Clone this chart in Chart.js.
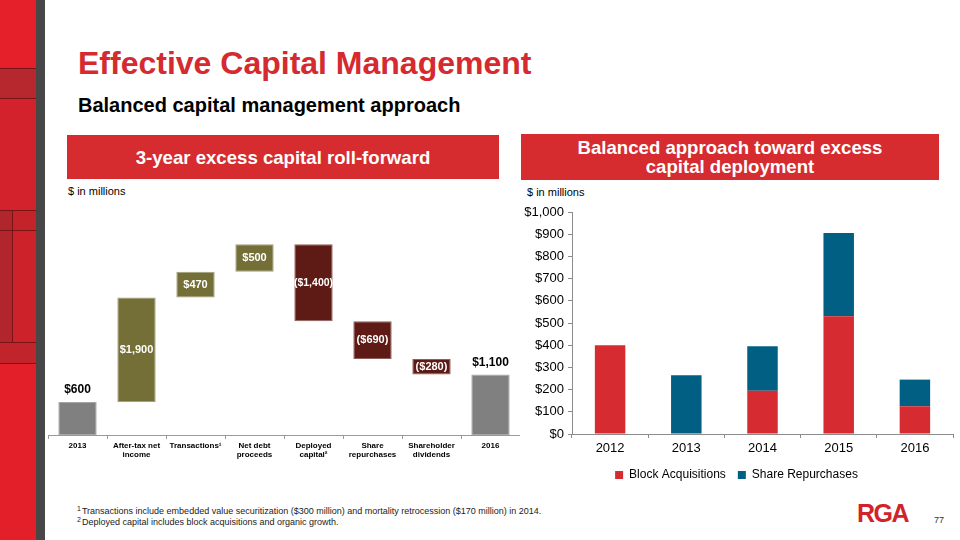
<!DOCTYPE html>
<html>
<head>
<meta charset="utf-8">
<script src="https://cdn.jsdelivr.net/npm/chart.js@4.4.1/dist/chart.umd.min.js"></script>
<style>
  body { margin: 0; width: 960px; height: 540px; position: relative; overflow: hidden; background: #fff;
         font-family: "Liberation Sans", Arial, sans-serif; }
  .abs { position: absolute; }
  .band { position: absolute; left: 0; width: 36px; }
  .rule { position: absolute; left: 0; width: 36px; height: 1px; background: #7a1318; }
  #title { left: 78px; top: 45px; font-size: 32px; font-weight: bold; color: #d42a30; white-space: nowrap; }
  #sub { left: 78px; top: 94px; font-size: 20px; font-weight: bold; color: #000; white-space: nowrap; }
  .banner { position: absolute; background: #d62b2f; color: #fff; font-weight: bold; font-size: 18.6px;
            text-align: center; display: flex; align-items: center; justify-content: center; line-height: 19px; }
  .unit { position: absolute; font-size: 11px; color: #000; }
  .note { position: absolute; left: 77px; font-size: 9px; color: #222; white-space: nowrap; }
  .note sup { font-size: 7px; vertical-align: 3px; margin-right: 1px; }
  #logo { left: 857px; top: 499px; font-size: 25px; font-weight: 900; color: #d2232a; letter-spacing: -1.5px; }
  #page { left: 934px; top: 515px; font-size: 9px; color: #333; }
</style>
</head>
<body>
<!-- side decoration -->
<div class="band" style="top:0;height:68px;background:#e6202a"></div>
<div class="band" style="top:68px;height:30px;background:#b6282e"></div>
<div class="band" style="top:98px;height:112px;background:#d3222b"></div>
<div class="band" style="top:210px;height:20px;background:#c42329"></div>
<div class="band" style="top:230px;height:112px;background:#cd222a"></div>
<div class="abs" style="left:0;top:210px;width:12px;height:132px;background:#b0262c"></div>
<div class="band" style="top:342px;height:21px;background:#c1242b"></div>
<div class="band" style="top:363px;height:177px;background:#e31f29"></div>
<div class="rule" style="top:68px"></div>
<div class="rule" style="top:98px"></div>
<div class="rule" style="top:210px"></div>
<div class="rule" style="top:230px"></div>
<div class="rule" style="top:342px"></div>
<div class="rule" style="top:363px"></div>
<div class="abs" style="left:12px;top:210px;width:1px;height:132px;background:#7a1318"></div>
<div class="abs" style="left:36px;top:0;width:9px;height:540px;background:#474747"></div>

<div id="title" class="abs">Effective Capital Management</div>
<div id="sub" class="abs">Balanced capital management approach</div>

<div class="banner" style="left:67px;top:135px;width:432px;height:44px">3-year excess capital roll-forward</div>
<div class="banner" style="left:521px;top:134px;width:418px;height:46px">Balanced approach toward excess<br>capital deployment</div>

<div class="unit" style="left:68px;top:185px">$ in millions</div>
<div class="unit" style="left:527px;top:186px">$ in millions</div>

<canvas id="flow" class="abs" style="left:48px;top:215px" width="472" height="245"></canvas>
<canvas id="deploy" class="abs" style="left:520px;top:200px" width="440" height="291"></canvas>

<div class="note" style="top:505px"><sup>1</sup>Transactions include embedded value securitization ($300 million) and mortality retrocession ($170 million) in 2014.</div>
<div class="note" style="top:516px"><sup>2</sup>Deployed capital includes block acquisitions and organic growth.</div>
<div id="logo" class="abs">RGA</div>
<div id="page" class="abs">77</div>

<script>
// roll-forward (waterfall)
const flowLabels = [['2013'], ['After-tax net', 'income'], ['Transactions\u00B9'], ['Net debt', 'proceeds'],
  ['Deployed', 'capital\u00B2'], ['Share', 'repurchases'], ['Shareholder', 'dividends'], ['2016']]
const flowValues = [600, 1900, 470, 500, -1400, -690, -280, 1100]
const flowTotals = [true, false, false, false, false, false, false, true]

// capital deployment
const years = ['2012', '2013', '2014', '2015', '2016']
const blockAcquisitions = [400, 0, 195, 530, 125]
const shareRepurchases = [0, 265, 200, 375, 120]

Chart.defaults.font.family = '"Liberation Sans", Arial, sans-serif'
Chart.defaults.color = '#000'
Chart.defaults.animation = false

const money = (v) => {
  const s = '$' + Math.abs(v).toLocaleString('en-US')
  return v < 0 ? '(' + s + ')' : s
}

// floating ranges for the waterfall
let run = 0
const ranges = flowValues.map((v, i) => {
  if (flowTotals[i]) { run = v; return [0, v] }
  const start = run
  run += v
  return [start, run]
})
const fills = flowValues.map((v, i) => flowTotals[i] ? '#808080' : v > 0 ? '#736f36' : '#5e1a15')
const edges = flowValues.map((v, i) => flowTotals[i] ? '#a6a6a6' : v > 0 ? '#a3a07a' : '#8f5f5b')

const flowLabelPlugin = {
  id: 'flowLabels',
  afterDatasetsDraw(chart) {
    const ctx = chart.ctx
    const meta = chart.getDatasetMeta(0)
    ctx.save()
    ctx.textAlign = 'center'
    ctx.textBaseline = 'middle'
    meta.data.forEach((bar, i) => {
      const v = flowValues[i]
      if (flowTotals[i]) {
        ctx.font = 'bold 12px "Liberation Sans", Arial'
        ctx.fillStyle = '#000'
        ctx.fillText(money(v), bar.x, Math.min(bar.y, bar.base) - 12)
      } else {
        ctx.font = 'bold ' + (v <= -1000 ? 10.5 : 11) + 'px "Liberation Sans", Arial'
        ctx.fillStyle = '#fff'
        ctx.fillText(money(v), bar.x, (bar.y + bar.base) / 2)
      }
    })
    ctx.restore()
  },
}

new Chart(document.getElementById('flow'), {
  type: 'bar',
  data: {
    labels: flowLabels,
    datasets: [{
      data: ranges,
      backgroundColor: fills,
      borderColor: edges,
      borderWidth: 1,
      borderSkipped: false,
      barPercentage: 0.65,
      categoryPercentage: 1,
    }],
  },
  options: {
    responsive: false,
    devicePixelRatio: 1,
    layout: { padding: 0 },
    plugins: { legend: { display: false }, tooltip: { enabled: false } },
    scales: {
      y: { display: false, min: 0, max: 4000 },
      x: {
        afterFit: (scale) => { scale.height = 25 },
        grid: { offset: true, drawOnChartArea: false, tickLength: 4, color: '#9a9a9a' },
        border: { display: true, color: '#9a9a9a' },
        ticks: { padding: 2, font: { size: 8, weight: 'bold', lineHeight: 1.15 }, color: '#000', maxRotation: 0, autoSkip: false },
      },
    },
  },
  plugins: [flowLabelPlugin],
})

new Chart(document.getElementById('deploy'), {
  type: 'bar',
  data: {
    labels: years,
    datasets: [
      { label: 'Block Acquisitions', data: blockAcquisitions, backgroundColor: '#d62b30' },
      { label: 'Share Repurchases', data: shareRepurchases, backgroundColor: '#005f82' },
    ],
  },
  options: {
    responsive: false,
    devicePixelRatio: 1,
    layout: { padding: { top: 12, right: 7, left: 0, bottom: 0 } },
    datasets: { bar: { barPercentage: 0.4, categoryPercentage: 1 } },
    plugins: {
      tooltip: { enabled: false },
      legend: {
        position: 'bottom',
        labels: { boxWidth: 8, boxHeight: 8, padding: 12, font: { size: 12 }, color: '#000' },
      },
    },
    scales: {
      x: {
        stacked: true,
        afterFit: (scale) => { scale.height = 23 },
        grid: { offset: true, drawOnChartArea: false, tickLength: 4, color: '#8c8c8c' },
        border: { display: true, color: '#8c8c8c' },
        ticks: { padding: 3, font: { size: 13 }, color: '#000' },
      },
      y: {
        stacked: true,
        min: 0,
        max: 1000,
        afterFit: (scale) => { scale.width = 52 },
        grid: { drawOnChartArea: false, tickLength: 4, color: '#8c8c8c' },
        border: { display: true, color: '#8c8c8c' },
        ticks: { stepSize: 100, padding: 4, font: { size: 13 }, color: '#000', callback: (v) => money(v) },
      },
    },
  },
})
</script>
</body>
</html>
